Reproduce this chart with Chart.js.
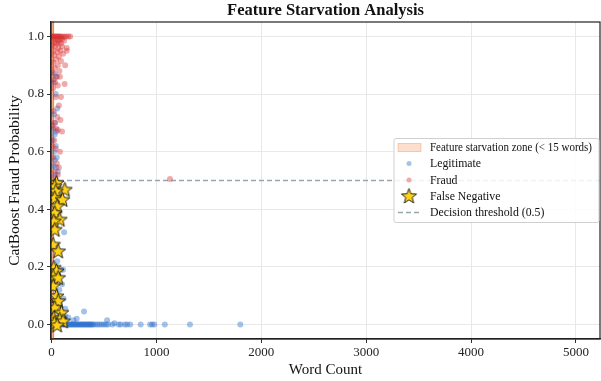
<!DOCTYPE html>
<html>
<head>
<meta charset="utf-8">
<script src="https://cdn.jsdelivr.net/npm/chart.js@4"></script>
<style>
  html, body { margin: 0; padding: 0; background: #fff; }
  #c { display: block; }
</style>
</head>
<body>
<canvas id="c" width="601" height="381"></canvas>
<script>
// axis ticks
const xTicks = [0, 1000, 2000, 3000, 4000, 5000];
const yTicks = [0, 0.2, 0.4, 0.6, 0.8, 1.0];
const threshold = 0.5;
const starvationMax = 15;

// Fraud points [wordCount, prob]
const fraudPts = [
  [5,1.0],[15,1.0],[25,1.0],[35,1.0],[45,1.0],[55,1.0],[65,1.0],[75,1.0],[85,1.0],[95,0.999],
  [110,1.0],[125,0.999],[140,1.0],[160,1.0],[178,1.0],[20,0.99],[40,0.99],[60,0.985],[80,0.99],
  [100,0.99],[120,0.985],[30,0.98],[50,0.975],[70,0.98],[90,0.975],[10,0.97],[35,0.965],[65,0.96],
  [100,0.965],[145,0.96],[20,0.95],[55,0.945],[85,0.95],[145,0.95],[25,0.935],[70,0.93],[110,0.94],
  [45,0.92],[90,0.915],[15,0.91],[60,0.9],[130,0.9],[30,0.89],[75,0.88],[10,0.875],[50,0.86],
  [20,0.85],[80,0.86],[125,0.835],[35,0.84],[60,0.83],[15,0.82],[90,0.79],[40,0.79],[70,0.76],
  [20,0.74],[55,0.72],[30,0.7],[85,0.71],[10,0.69],[45,0.68],[60,0.675],[100,0.67],[25,0.64],
  [10,0.62],[40,0.61],[80,0.6],[15,0.58],[50,0.56],[70,0.545],[30,0.53],[60,0.52],[20,0.51],
  [1130,0.505]
];

// Legitimate points [wordCount, prob]
const legitPts = [
  [30,0.87],[45,0.86],[20,0.84],[40,0.8],[55,0.75],[25,0.73],[35,0.7],[15,0.68],[45,0.67],[30,0.66],
  [10,0.64],[40,0.62],[25,0.6],[50,0.58],[30,0.57],[20,0.55],[45,0.545],[60,0.53],[35,0.52],[40,0.5],
  [120,0.32],[70,0.25],[55,0.22],[90,0.19],[110,0.19],[65,0.17],[100,0.14],[75,0.12],[115,0.09],
  [80,0.07],[130,0.055],[310,0.045],[130,0.03],[160,0.025],[210,0.015],[240,0.02],[530,0.015],[600,0.005],
  [100,0],[110,0],[120,0],[130,0],[140,0],[150,0],[160,0],[170,0],[180,0],[190,0],[200,0],[210,0],
  [220,0],[230,0],[240,0],[250,0],[260,0],[270,0],[280,0],[290,0],[300,0],[310,0],[320,0],[330,0],
  [340,0],[350,0],[360,0],[370,0],[380,0],[390,0],[400,0],[420,0],[440,0],[460,0],[480,0],[500,0],
  [520,0],[540,0],[580,0],[640,0],[660,0],[700,0],[720,0],[750,0],[850,0],[940,0],[960,0],[980,0],
  [1080,0],[1320,0],[1800,0]
];

// False negatives [wordCount, prob]
const fnPts = [
  [48,0.49],[31,0.478],[127,0.467],[41,0.461],[31,0.438],[105,0.432],[53,0.409],[31,0.386],[79,0.363],
  [22,0.357],[31,0.328],[15,0.276],[63,0.253],[22,0.196],[48,0.184],[15,0.166],[63,0.161],[15,0.132],
  [48,0.097],[63,0.08],[31,0.057],[95,0.04],[22,0.022],[79,0.016],[31,0.005],[110,0.01],[53,-0.004]
];

const legendLabels = ['Feature starvation zone (< 15 words)', 'Legitimate', 'Fraud', 'False Negative', 'Decision threshold (0.5)'];

const FONT = 'Liberation Serif';
const legitColor = 'rgba(40,110,205,0.42)';
const fraudColor = 'rgba(214,45,45,0.4)';
const threshColor = '#97a6af';
const zoneFill = 'rgba(244,150,90,0.3)';
const zoneEdge = 'rgba(232,112,50,0.9)';

function starImage(r) {
  const size = Math.ceil(r * 2 + 3);
  const cv = document.createElement('canvas');
  cv.width = size; cv.height = size;
  const g = cv.getContext('2d');
  const c = size / 2;
  g.beginPath();
  for (let i = 0; i < 10; i++) {
    const rad = i % 2 === 0 ? r : r * 0.42;
    const a = -Math.PI / 2 + i * Math.PI / 5;
    const px = c + rad * Math.cos(a), py = c + rad * Math.sin(a);
    if (i === 0) g.moveTo(px, py); else g.lineTo(px, py);
  }
  g.closePath();
  g.fillStyle = '#FFD21A';
  g.fill();
  g.lineWidth = 0.9;
  g.strokeStyle = '#111';
  g.stroke();
  return cv;
}
const star = starImage(7.8);
const starLegend = starImage(8);

const toXY = arr => arr.map(([x, y]) => ({ x, y }));

// starvation band, frame and title centred on the axes
const bandPlugin = {
  id: 'band',
  beforeDatasetsDraw(chart) {
    const { ctx, chartArea: a, scales: { x } } = chart;
    const x0 = Math.max(a.left, x.getPixelForValue(0));
    const x1 = x.getPixelForValue(starvationMax);
    ctx.save();
    ctx.fillStyle = zoneFill;
    ctx.fillRect(x0, a.top, x1 - x0, a.bottom - a.top);
    ctx.strokeStyle = zoneEdge;
    ctx.lineWidth = 1;
    ctx.strokeRect(x0 + 0.5, a.top, Math.max(1, x1 - x0), a.bottom - a.top);
    ctx.restore();
  },
  afterDraw(chart) {
    const { ctx, chartArea: a } = chart;
    ctx.save();
    ctx.strokeStyle = '#222';
    ctx.lineWidth = 1.2;
    ctx.strokeRect(a.left, a.top, a.right - a.left, a.bottom - a.top);
    ctx.font = 'bold 16.5px "' + FONT + '"';
    ctx.fillStyle = '#111';
    ctx.textAlign = 'center';
    ctx.textBaseline = 'middle';
    ctx.fillText('Feature Starvation Analysis', (a.left + a.right) / 2, 11);
    ctx.restore();
  }
};

// legend box inside the plot, like matplotlib
const legendPlugin = {
  id: 'boxLegend',
  afterDraw(chart) {
    const { ctx } = chart;
    const w = 205, h = 84;
    const left = 394, top = 138.5;
    ctx.save();
    ctx.fillStyle = 'rgba(255,255,255,0.85)';
    ctx.strokeStyle = '#d0d0d0';
    ctx.lineWidth = 1;
    ctx.beginPath();
    ctx.roundRect(left, top, w, h, 2);
    ctx.fill();
    ctx.stroke();

    const mx = left + 15, tx = left + 36;
    const rows = [147.5, 163.5, 180, 196.5, 212.5];
    ctx.font = '11.8px "' + FONT + '"';
    ctx.fillStyle = '#111';
    ctx.textBaseline = 'middle';
    legendLabels.forEach((t, i) => ctx.fillText(t, tx, rows[i] + 0.5, i === 0 ? 162 : undefined));

    // patch
    ctx.fillStyle = zoneFill;
    ctx.fillRect(mx - 11, rows[0] - 4, 23, 8);
    ctx.strokeStyle = 'rgba(244,150,90,0.45)';
    ctx.strokeRect(mx - 11, rows[0] - 4, 23, 8);
    // dots
    ctx.fillStyle = legitColor;
    ctx.beginPath(); ctx.arc(mx, rows[1], 2.5, 0, Math.PI * 2); ctx.fill();
    ctx.fillStyle = fraudColor;
    ctx.beginPath(); ctx.arc(mx, rows[2], 2.5, 0, Math.PI * 2); ctx.fill();
    // star
    ctx.drawImage(starLegend, mx - starLegend.width / 2, rows[3] - starLegend.height / 2);
    // dashed line
    ctx.strokeStyle = threshColor;
    ctx.lineWidth = 1.3;
    ctx.setLineDash([5, 3]);
    ctx.beginPath(); ctx.moveTo(mx - 11, rows[4]); ctx.lineTo(mx + 12, rows[4]); ctx.stroke();
    ctx.restore();
  }
};

const xMin = -5, xMax = 5230;

new Chart(document.getElementById('c'), {
  type: 'scatter',
  data: {
    datasets: [
      {
        label: 'False Negative', data: toXY(fnPts), order: 0,
        pointStyle: star, pointRadius: 8, pointHoverRadius: 8
      },
      {
        label: 'Fraud', data: toXY(fraudPts), order: 1,
        backgroundColor: fraudColor, borderWidth: 0, pointRadius: 3
      },
      {
        label: 'Legitimate', data: toXY(legitPts), order: 2,
        backgroundColor: legitColor, borderWidth: 0, pointRadius: 3
      },
      {
        type: 'line', label: 'Decision threshold (0.5)', order: 3,
        data: [{ x: xMin, y: threshold }, { x: xMax, y: threshold }],
        borderColor: threshColor, borderWidth: 1.3, borderDash: [5, 3],
        pointRadius: 0, fill: false
      }
    ]
  },
  options: {
    responsive: false,
    animation: false,
    devicePixelRatio: 1,
    layout: { autoPadding: false, padding: { left: 0, right: 1, top: 22, bottom: 0 } },
    plugins: {
      legend: { display: false },
      tooltip: { enabled: false },
      title: { display: false }
    },
    scales: {
      x: {
        type: 'linear', min: xMin, max: xMax,
        afterBuildTicks: s => { s.ticks = xTicks.map(v => ({ value: v })); },
        afterFit: s => { s.height = 42; s.paddingLeft = 0; s.paddingRight = 0; },
        ticks: { color: '#222', font: { family: FONT, size: 13 }, padding: 2, maxRotation: 0, callback: v => String(v) },
        grid: { color: '#e8e8e8', tickColor: '#333', tickLength: 4 },
        border: { color: '#222', width: 1.2 },
        title: { display: true, text: 'Word Count', color: '#111', font: { family: FONT, size: 15 }, padding: { top: 0, bottom: 2 } }
      },
      y: {
        type: 'linear', min: -0.05, max: 1.05,
        afterBuildTicks: s => { s.ticks = yTicks.map(v => ({ value: v })); },
        afterFit: s => { s.width = 51; s.paddingTop = 0; s.paddingBottom = 0; },
        ticks: { color: '#222', font: { family: FONT, size: 13 }, padding: 3, callback: v => v.toFixed(1) },
        grid: { color: '#e8e8e8', tickColor: '#333', tickLength: 4 },
        border: { color: '#222', width: 1.2 },
        title: { display: true, text: 'CatBoost Fraud Probability', color: '#111', font: { family: FONT, size: 15.5 }, padding: { top: 6, bottom: 0 } }
      }
    }
  },
  plugins: [bandPlugin, legendPlugin]
});
</script>
</body>
</html>
